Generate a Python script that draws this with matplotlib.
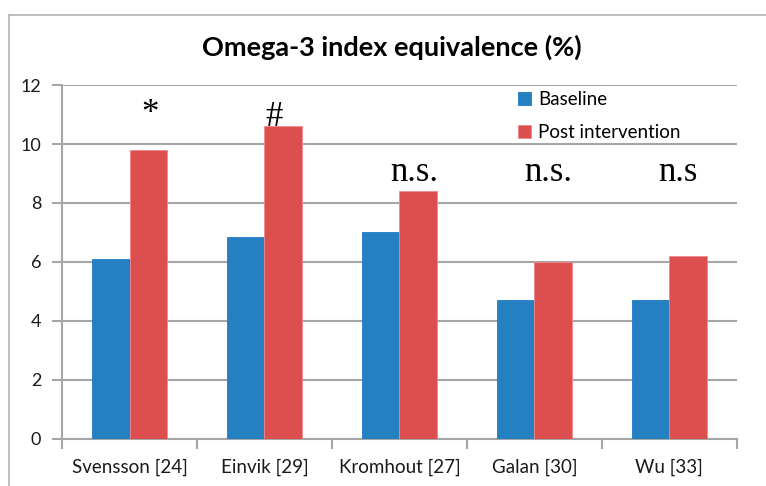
import numpy as np
import matplotlib.pyplot as plt
from matplotlib.lines import Line2D

# data
studies = ['Svensson [24]', 'Einvik [29]', 'Kromhout [27]', 'Galan [30]', 'Wu [33]']
baseline = [6.1, 6.85, 7.0, 4.7, 4.7]
post = [9.8, 10.6, 8.4, 6.0, 6.2]
marks = ['*', '#', 'n.s.', 'n.s.', 'n.s']
mark_x = [0.15, 1.07, 2.11, 3.10, 4.06]
mark_y = [11.0, 10.9, 9.05, 9.05, 9.05]

blue = '#2480c0'
red = '#dd4e4e'
grid_c = '#a6a6a6'

fig = plt.figure(figsize=(7.66, 4.86), dpi=100)
ax = fig.add_axes([0.081, 0.097, 0.881, 0.728])

x = np.arange(len(studies))
w = 0.28
ax.bar(x - w / 2, baseline, w, color=blue, edgecolor='#1f78c8', linewidth=0.6, zorder=3, label='Baseline')
ax.bar(x + w / 2, post, w, color=red, edgecolor='#f08a8a', linewidth=0.6, zorder=3, label='Post intervention')

ax.set_xlim(-0.5, len(studies) - 0.5)
ax.set_ylim(0, 12)
ax.set_yticks(range(0, 13, 2))
ax.yaxis.grid(True, color=grid_c, linewidth=1.5, zorder=0)
ax.set_axisbelow(True)

for s in ['top', 'right']:
    ax.spines[s].set_visible(False)
for s in ['left', 'bottom']:
    ax.spines[s].set_color(grid_c)
    ax.spines[s].set_linewidth(1.5)

# category boundary ticks, labels at centres
ax.set_xticks(np.arange(-0.5, len(studies)), minor=False)
ax.set_xticklabels([])
ax.set_xticks(x, minor=True)
ax.set_xticklabels(studies, minor=True, fontsize=13.5, family='Lato', color='#1a1a1a')
ax.tick_params(axis='x', which='major', length=7, width=1.5, color=grid_c)
ax.tick_params(axis='x', which='minor', length=0, pad=14)
ax.tick_params(axis='y', length=7, width=1.5, color=grid_c, labelsize=13, pad=8)
for t in ax.get_yticklabels():
    t.set_family('Lato')
    t.set_color('#1a1a1a')

for m, mx, my in zip(marks, mark_x, mark_y):
    ax.text(mx, my, m, ha='center', va='center', fontsize=25, family='Liberation Serif', zorder=4)

ax.legend(loc='upper left', bbox_to_anchor=(0.65, 1.03), frameon=False,
          prop={'family': 'Lato', 'size': 13.5}, handlelength=0.7, handleheight=0.7,
          handletextpad=0.4, labelspacing=0.85)

fig.text(0.512, 0.903, 'Omega-3 index equivalence (%)', ha='center', va='center',
         fontsize=19.5, fontweight='bold', family='Lato')

# outer chart frame (top and left edges only visible)
fig.add_artist(Line2D([9 / 766, 1], [1 - 15 / 486, 1 - 15 / 486], color='#b4b4b4', linewidth=1.2, transform=fig.transFigure))
fig.add_artist(Line2D([9 / 766, 9 / 766], [0, 1 - 15 / 486], color='#b4b4b4', linewidth=1.2, transform=fig.transFigure))

fig.savefig('out.png', dpi=100)
